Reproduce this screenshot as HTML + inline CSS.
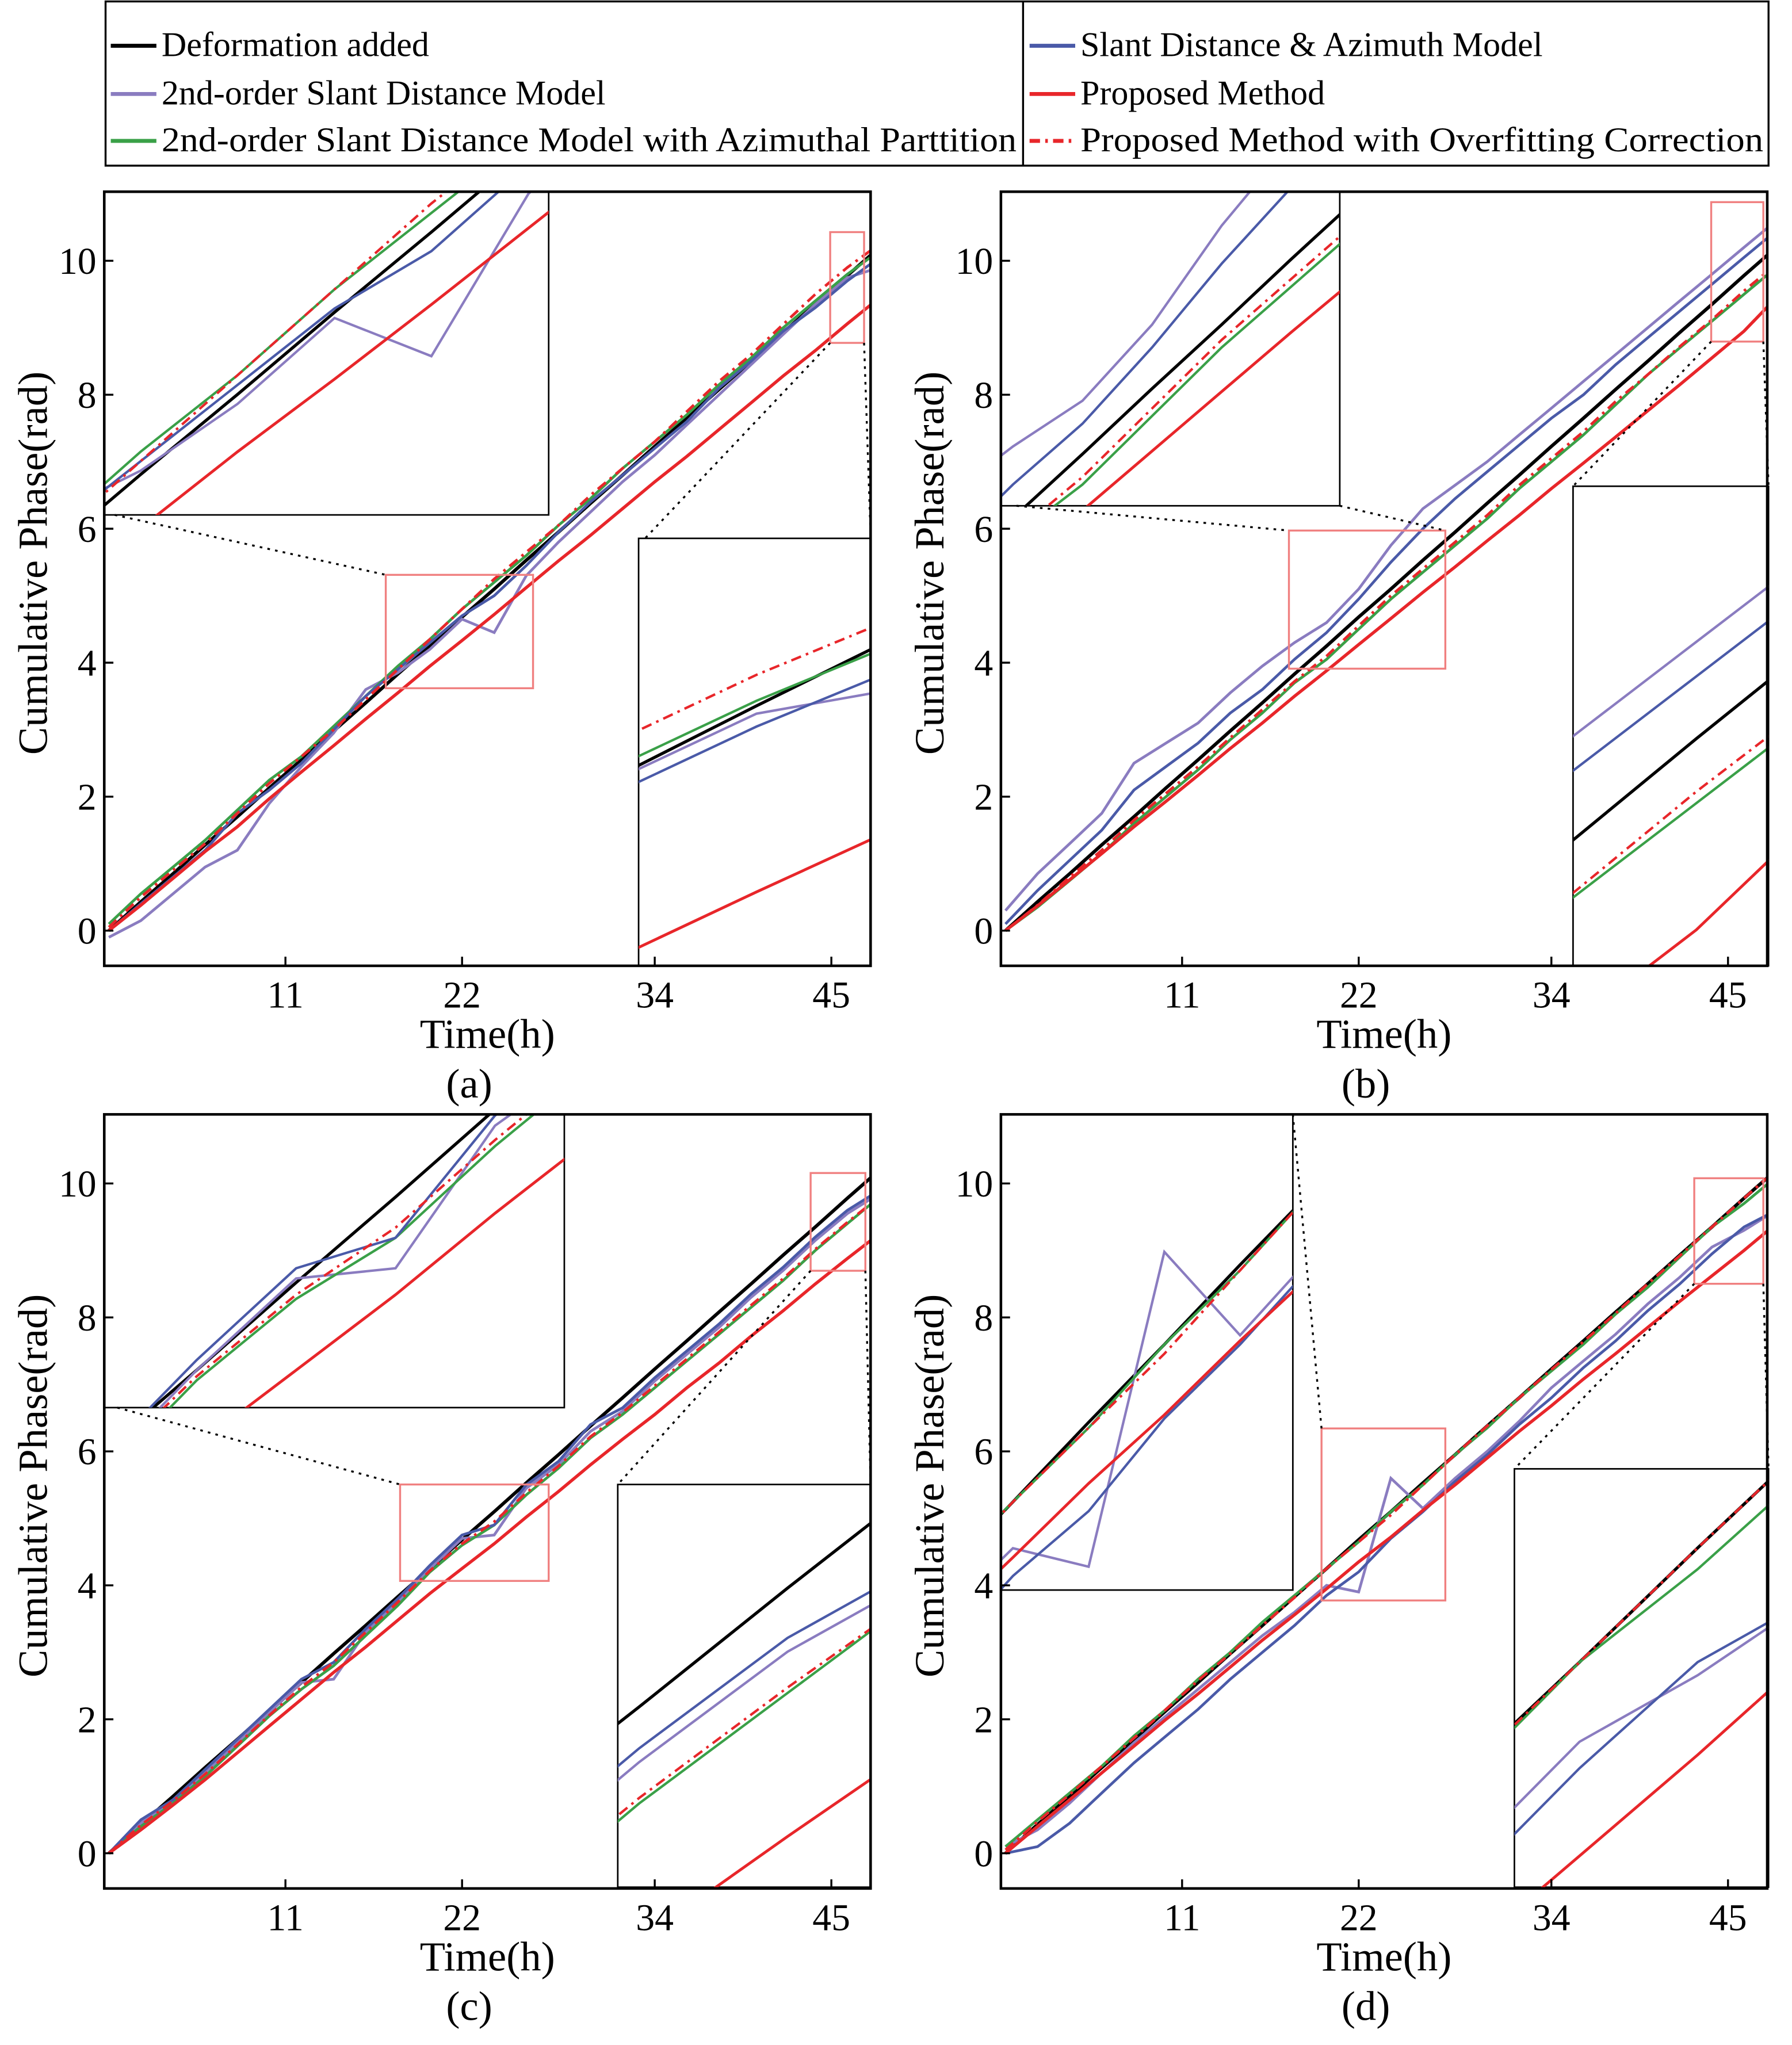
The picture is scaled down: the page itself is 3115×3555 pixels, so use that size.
<!DOCTYPE html>
<html><head><meta charset="utf-8">
<style>
html,body{margin:0;padding:0;background:#fff;overflow:hidden;width:3115px;height:3555px;}
svg{display:block;font-family:"Liberation Serif",serif;}
</style></head>
<body>
<svg id="fig" width="3115" height="3555" viewBox="0 0 1375 1569" xmlns="http://www.w3.org/2000/svg">
<g id="legend">
<rect x="81" y="1" width="1276" height="126" fill="#fff" stroke="#000" stroke-width="1.5"/>
<line x1="785" y1="1" x2="785" y2="127" stroke="#000" stroke-width="1.5"/>
<g><line x1="85" y1="35" x2="120" y2="35" stroke="#000" stroke-width="3"/><text x="124" y="43" font-size="26.5">Deformation added</text></g>
<g><line x1="85" y1="72" x2="120" y2="72" stroke="#8a7cc0" stroke-width="3"/><text x="124" y="80" font-size="26.5">2nd-order Slant Distance Model</text></g>
<g><line x1="85" y1="108" x2="120" y2="108" stroke="#3aa048" stroke-width="3"/><text x="124" y="116" font-size="26.5" textLength="656" lengthAdjust="spacingAndGlyphs">2nd-order Slant Distance Model with Azimuthal Parttition</text></g>
<g><line x1="790" y1="35" x2="825" y2="35" stroke="#4a5aa8" stroke-width="3"/><text x="829" y="43" font-size="26.5">Slant Distance &amp; Azimuth Model</text></g>
<g><line x1="790" y1="72" x2="825" y2="72" stroke="#e8262a" stroke-width="3"/><text x="829" y="80" font-size="26.5">Proposed Method</text></g>
<g><line x1="790" y1="108" x2="825" y2="108" stroke="#e8262a" stroke-width="3" stroke-dasharray="8,4,2,4"/><text x="829" y="116" font-size="26.5" textLength="524" lengthAdjust="spacingAndGlyphs">Proposed Method with Overfitting  Correction</text></g>
</g>
</svg>
<script>
const times=[0,2,4,6,8,10,12,14,16,18,20,22,24,26,28,30,32,34,36,38,40,42,44,46,48];
const deform=[0,0.43,0.85,1.28,1.7,2.13,2.55,2.98,3.4,3.83,4.25,4.68,5.1,5.53,5.95,6.38,6.8,7.23,7.65,8.08,8.5,8.93,9.35,9.78,10.2];
const aBlue=[0,0.4,0.8,1.2,1.75,2.1,2.5,3.0,3.5,3.9,4.3,4.7,5.0,5.45,5.95,6.4,6.8,7.2,7.6,8.1,8.5,8.95,9.3,9.7,10.05];
const aPurple=[-0.1,0.15,0.55,0.95,1.2,1.9,2.45,2.95,3.6,3.85,4.2,4.65,4.45,5.3,5.8,6.25,6.7,7.1,7.55,8.0,8.45,8.9,9.35,9.75,9.9];
const aGreen=[0.1,0.55,0.95,1.35,1.8,2.25,2.6,3.05,3.5,3.95,4.35,4.8,5.2,5.6,6.05,6.45,6.9,7.3,7.7,8.15,8.55,9.0,9.4,9.8,10.15];
const aRedDash=[0.05,0.5,0.9,1.3,1.75,2.2,2.6,3.0,3.45,3.9,4.35,4.8,5.25,5.65,6.05,6.5,6.9,7.3,7.75,8.2,8.6,9.05,9.5,9.9,10.25];
const aRed=[0,0.38,0.78,1.18,1.55,1.97,2.37,2.76,3.16,3.55,3.95,4.33,4.72,5.12,5.52,5.9,6.3,6.7,7.08,7.48,7.88,8.28,8.66,9.06,9.45];
const bBlue=[0.1,0.6,1.05,1.5,2.1,2.45,2.8,3.25,3.6,4.05,4.45,4.95,5.5,6.0,6.45,6.85,7.25,7.65,8.0,8.45,8.85,9.25,9.65,10.05,10.45];
const bPurple=[0.3,0.85,1.3,1.75,2.5,2.8,3.1,3.55,3.95,4.3,4.6,5.1,5.75,6.3,6.65,7.0,7.4,7.8,8.2,8.6,9.0,9.4,9.8,10.2,10.6];
const bGreen=[0,0.35,0.75,1.15,1.6,2.0,2.4,2.85,3.25,3.7,4.05,4.5,4.95,5.35,5.75,6.15,6.6,7.0,7.4,7.85,8.3,8.7,9.1,9.5,9.9];
const bRedDash=[0,0.38,0.8,1.2,1.65,2.05,2.45,2.88,3.3,3.72,4.1,4.55,5.0,5.4,5.8,6.2,6.65,7.05,7.45,7.9,8.3,8.72,9.12,9.55,9.95];
const bRed=[0,0.37,0.76,1.15,1.55,1.93,2.32,2.72,3.1,3.5,3.88,4.27,4.66,5.05,5.43,5.82,6.2,6.6,6.98,7.37,7.76,8.15,8.55,8.95,9.45];
const cBlue=[0,0.5,0.8,1.25,1.7,2.15,2.6,2.85,3.35,3.8,4.3,4.75,4.9,5.5,5.85,6.4,6.65,7.1,7.5,7.9,8.35,8.75,9.2,9.6,9.9];
const cPurple=[0,0.45,0.8,1.2,1.65,2.1,2.55,2.6,3.3,3.75,4.25,4.7,4.75,5.45,5.8,6.3,6.6,7.05,7.45,7.85,8.3,8.7,9.15,9.55,9.85];
const cGreen=[0,0.4,0.75,1.15,1.6,2.05,2.45,2.8,3.25,3.7,4.2,4.6,4.9,5.35,5.75,6.2,6.55,6.95,7.35,7.75,8.15,8.55,9.0,9.4,9.8];
const cRedDash=[0,0.42,0.78,1.18,1.62,2.06,2.48,2.85,3.3,3.75,4.22,4.62,4.95,5.38,5.78,6.22,6.58,6.98,7.38,7.78,8.18,8.58,9.02,9.42,9.8];
const cRed=[0,0.35,0.72,1.1,1.5,1.9,2.3,2.7,3.08,3.48,3.88,4.25,4.62,5.02,5.4,5.8,6.18,6.55,6.95,7.32,7.72,8.1,8.5,8.88,9.25];
const dBlue=[0,0.1,0.45,0.9,1.35,1.75,2.15,2.6,3.0,3.4,3.85,4.2,4.7,5.1,5.55,5.95,6.4,6.8,7.25,7.65,8.1,8.5,8.95,9.35,9.6];
const dPurple=[0.1,0.35,0.75,1.2,1.65,2.05,2.45,2.85,3.25,3.6,4.0,3.9,5.6,5.15,5.6,6.0,6.45,6.95,7.35,7.75,8.2,8.6,9.05,9.3,9.6];
const dGreen=[0.1,0.5,0.9,1.3,1.75,2.15,2.6,3.0,3.45,3.85,4.25,4.65,5.1,5.5,5.95,6.35,6.8,7.2,7.6,8.05,8.45,8.9,9.35,9.7,10.1];
const dRedDash=[0.05,0.47,0.88,1.3,1.72,2.15,2.58,2.98,3.4,3.82,4.25,4.65,5.05,5.5,5.95,6.38,6.8,7.22,7.64,8.06,8.5,8.92,9.35,9.78,10.2];
const dRed=[0,0.4,0.8,1.2,1.6,2.0,2.38,2.78,3.18,3.56,3.95,4.35,4.72,5.12,5.5,5.9,6.3,6.68,7.08,7.46,7.85,8.24,8.62,9.0,9.4];
const yTicks=[0,2,4,6,8,10];
const xTicks=[11,22,34,45];
const captions=["(a)","(b)","(c)","(d)"];

const NS="http://www.w3.org/2000/svg";
const svg=document.getElementById('fig');
function mk(tag,attrs,parent){const e=document.createElementNS(NS,tag);for(const k in attrs)e.setAttribute(k,attrs[k]);(parent||svg).appendChild(e);return e;}

const panels=[
 {L:80,T:147,series:[deform,aPurple,aGreen,aBlue,aRedDash,aRed],ins:[{r:[80,147,421,395],b:[296,441,409,528],lines:[[88,395,296,441]]},{r:[490,413,668,741],b:[637,178,663,263],lines:[[637,263,495,413],[663,263,668,410]]}]},
 {L:768,T:147,series:[deform,bPurple,bGreen,bBlue,bRedDash,bRed],ins:[{r:[768,147,1028,388],b:[989,407,1109,513],lines:[[1028,388,1109,407],[780,388,989,407]]},{r:[1207,373,1357,741],b:[1313,155,1353,262],lines:[[1313,262,1207,373],[1353,262,1357,373]]}]},
 {L:80,T:855,series:[deform,cPurple,cGreen,cBlue,cRedDash,cRed],ins:[{r:[80,855,433,1080],b:[307,1139,421,1213],lines:[[90,1080,307,1139]]},{r:[474,1139,668,1448],b:[622,900,664,975],lines:[[622,975,474,1139],[664,975,668,1139]]}]},
 {L:768,T:855,series:[deform,dPurple,dGreen,dBlue,dRedDash,dRed],ins:[{r:[768,855,992,1220],b:[1014,1096,1109,1228],lines:[[992,855,1014,1096]]},{r:[1162,1127,1357,1448],b:[1300,904,1353,985],lines:[[1300,985,1162,1127],[1353,985,1357,1127]]}]}
];
const styles=[
 {c:'#000',w:2.6,d:'',n:'deformation-line'},
 {c:'#8a7cc0',w:2.1,d:'',n:'2nd-order-line'},
 {c:'#3aa048',w:2.1,d:'',n:'azimuthal-partition-line'},
 {c:'#4a5aa8',w:2.1,d:'',n:'slant-azimuth-line'},
 {c:'#e8262a',w:2.1,d:'8,4,2,4',n:'proposed-overfitting-line'},
 {c:'#e8262a',w:2.4,d:'',n:'proposed-line'}
];
const W=588,H=594;
panels.forEach((p,pi)=>{
 const xs=t=>p.L+3.5+t*12.32, ys=v=>p.T+567-v*51.4;
 const g=mk('g',{});
 
 
 const cid='clip'+pi;
 const cp=mk('clipPath',{id:cid},g);mk('rect',{x:p.L,y:p.T,width:W,height:H},cp);
 const lg=mk('g',{'clip-path':'url(#'+cid+')'},g);
 p.series.forEach((s,si)=>{
  const st=styles[si];
  const pts=s.map((v,i)=>xs(times[i]).toFixed(1)+','+ys(v).toFixed(1)).join(' ');
  const pl=mk('polyline',{points:pts,fill:'none',stroke:st.c,'stroke-width':st.w,'stroke-dasharray':st.d},lg);
  
  
 });
 p.ins.forEach((ins,ii)=>{
  const [rx0,ry0,rx1,ry1]=ins.r,[bx0,by0,bx1,by1]=ins.b;
  const ig=mk('g',{},g);
  
  
  mk('rect',{x:rx0,y:ry0,width:rx1-rx0,height:ry1-ry0,fill:'#fff',stroke:'#000','stroke-width':1.2},ig);
  const icid='ic'+pi+'_'+ii;
  const icp=mk('clipPath',{id:icid},ig);mk('rect',{x:rx0,y:ry0,width:rx1-rx0,height:ry1-ry0},icp);
  const il=mk('g',{'clip-path':'url(#'+icid+')'},ig);
  const ix=x=>rx0+(x-bx0)/(bx1-bx0)*(rx1-rx0), iy=y=>ry0+(y-by0)/(by1-by0)*(ry1-ry0);
  p.series.forEach((s,si)=>{
   const st=styles[si];
   const pts=s.map((v,i)=>ix(xs(times[i])).toFixed(1)+','+iy(ys(v)).toFixed(1)).join(' ');
   const pl=mk('polyline',{points:pts,fill:'none',stroke:st.c,'stroke-width':st.w*0.9,'stroke-dasharray':st.d},il);
   
   
  });
  const zb=mk('rect',{x:bx0,y:by0,width:bx1-bx0,height:by1-by0,fill:'none',stroke:'#f08080','stroke-width':1.5},g);
  
  
  ins.lines.forEach(l=>{
   const dl=mk('line',{x1:l[0],y1:l[1],x2:l[2],y2:l[3],stroke:'#000','stroke-width':1.5,'stroke-dasharray':'2,4'},g);
   
   
  });
 });
 const fr=mk('rect',{x:p.L,y:p.T,width:W,height:H,fill:'none',stroke:'#000','stroke-width':2},g);
 
 
 yTicks.forEach(v=>{
  mk('line',{x1:p.L,y1:ys(v),x2:p.L+7,y2:ys(v),stroke:'#000','stroke-width':1.5},g);
  const t=mk('text',{x:p.L-6,y:ys(v)+10,'font-size':29,'text-anchor':'end'},g);t.textContent=v;
  
  
 });
 xTicks.forEach(v=>{
  mk('line',{x1:xs(v),y1:p.T+H,x2:xs(v),y2:p.T+H-7,stroke:'#000','stroke-width':1.5},g);
  const t=mk('text',{x:xs(v),y:p.T+H+32,'font-size':29,'text-anchor':'middle'},g);t.textContent=v;
  
  
 });
 const xl=mk('text',{x:p.L+294,y:p.T+H+63,'font-size':32,'text-anchor':'middle'},g);xl.textContent='Time(h)';
 
 
 const yl=mk('text',{x:0,y:0,'font-size':32,'text-anchor':'middle',transform:'translate('+(p.L-44)+','+(p.T+285)+') rotate(-90)'},g);yl.textContent='Cumulative Phase(rad)';
 
 
 const cap=mk('text',{x:p.L+280,y:p.T+H+101,'font-size':32,'text-anchor':'middle'},g);cap.textContent=captions[pi];
 
 
});
</script>
</body></html>
